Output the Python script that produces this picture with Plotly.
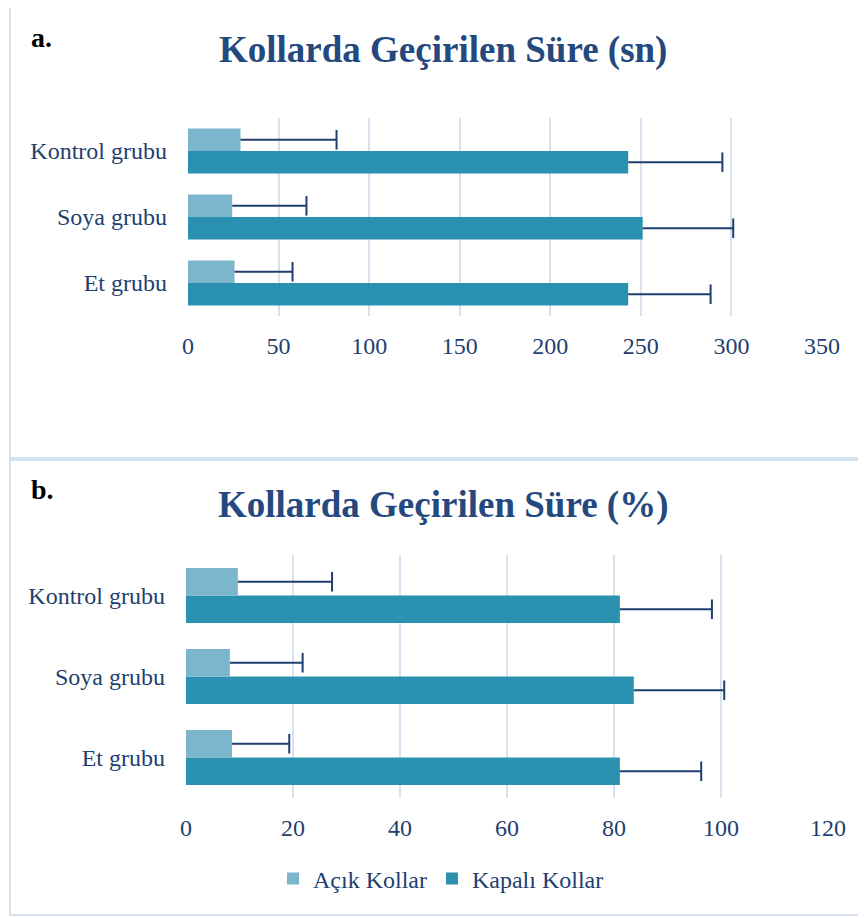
import plotly.graph_objects as go

# categories (bottom -> top as plotly draws them)
groups = ["Et grubu", "Soya grubu", "Kontrol grubu"]

# panel a: time in arms (seconds)
acik_sn = [25.7, 24.4, 29]
acik_sn_err = [32, 41, 53]
kapali_sn = [243, 251, 243]
kapali_sn_err = [45.5, 50, 52]

# panel b: time in arms (%)
acik_pct = [8.6, 8.2, 9.7]
acik_pct_err = [10.7, 13.6, 17.6]
kapali_pct = [81.1, 83.7, 81.1]
kapali_pct_err = [15.2, 16.9, 17.2]

W, H = 866, 918
OFF = 8  # page body margin of the html output
FONT = "Liberation Serif"
NAVY = "#1F3F70"
LIGHT = "#7BB6CC"
DARK = "#2A91B0"
GRID = "#D5E2F0"


def px_x(v):
    return (v - OFF) / W


def px_y(v):
    return 1 - (v - OFF) / H


fig = go.Figure()

# kapali first so it sits at the bottom of each group
series = [
    ("Kapalı Kollar", DARK, "kapali", 2, [("x", "y", kapali_sn, kapali_sn_err), ("x2", "y2", kapali_pct, kapali_pct_err)]),
    ("Açık Kollar", LIGHT, "acik", 1, [("x", "y", acik_sn, acik_sn_err), ("x2", "y2", acik_pct, acik_pct_err)]),
]

for name, color, grp, rank, panels in series:
    for i, (xa, ya, vals, errs) in enumerate(panels):
        fig.add_trace(go.Bar(
            y=groups, x=vals, orientation="h", name=name,
            marker=dict(color=color, line=dict(width=0)),
            error_x=dict(type="data", array=errs, arrayminus=[0] * len(errs), symmetric=False,
                         color=NAVY, thickness=2, width=0),
            xaxis=xa, yaxis=ya, showlegend=(i == 0), legendrank=rank, legendgroup=grp,
        ))
        # error bar caps (hat only, no cap at bar end)
        fig.add_trace(go.Scatter(
            y=groups, x=[v + e for v, e in zip(vals, errs)], orientation="h",
            mode="markers", marker=dict(symbol="line-ns", size=14, line=dict(color=NAVY, width=2)),
            xaxis=xa, yaxis=ya, showlegend=False, hoverinfo="skip", legendgroup=grp,
        ))

xcommon = dict(showgrid=True, gridcolor=GRID, gridwidth=2, zeroline=False, automargin=False,
               showline=False, ticks="", ticklabelstandoff=13,
               tickfont=dict(family=FONT, size=24, color=NAVY))
ycommon = dict(showgrid=False, zeroline=False, showline=False, ticks="", automargin=False,
               ticklabelstandoff=20,
               tickfont=dict(family=FONT, size=24, color=NAVY))

fig.update_layout(
    width=W, height=H,
    margin=dict(l=0, r=0, t=0, b=0),
    paper_bgcolor="white", plot_bgcolor="white",
    barmode="group", bargap=0.32, bargroupgap=0,
    scattermode="group", scattergap=0.32,
    xaxis=dict(xcommon, domain=[px_x(188), px_x(822)], range=[0, 350], dtick=50, anchor="y"),
    yaxis=dict(ycommon, domain=[px_y(316), px_y(118)], anchor="x"),
    xaxis2=dict(xcommon, domain=[px_x(186), px_x(828)], range=[0, 120], dtick=20, anchor="y2"),
    yaxis2=dict(ycommon, domain=[px_y(798), px_y(555)], anchor="x2"),
    legend=dict(orientation="h", x=px_x(441), xanchor="center", y=px_y(879), yanchor="middle",
                font=dict(family=FONT, size=24, color=NAVY), itemwidth=30,
                traceorder="normal"),
    showlegend=True,
)

# titles and panel letters
for label, title, ty, ly in [("a.", "Kollarda Geçirilen Süre (sn)", 50, 37),
                             ("b.", "Kollarda Geçirilen Süre (%)", 505, 490)]:
    fig.add_annotation(text="<b>" + title + "</b>", xref="paper", yref="paper",
                       x=px_x(443), y=px_y(ty), xanchor="center", yanchor="middle",
                       showarrow=False, font=dict(family=FONT, size=37, color="#24497E"))
    fig.add_annotation(text="<b>" + label + "</b>", xref="paper", yref="paper",
                       x=px_x(29), y=px_y(ly), xanchor="left", yanchor="middle",
                       showarrow=False, font=dict(family=FONT, size=28, color="black"))

# panel frames
for y0, y1 in [(5, 458), (460, 915)]:
    fig.add_shape(type="rect", xref="paper", yref="paper",
                  x0=px_x(10), x1=px_x(874), y0=px_y(y1), y1=px_y(y0),
                  line=dict(color=GRID, width=2), layer="below")

fig.write_html("out.html")
